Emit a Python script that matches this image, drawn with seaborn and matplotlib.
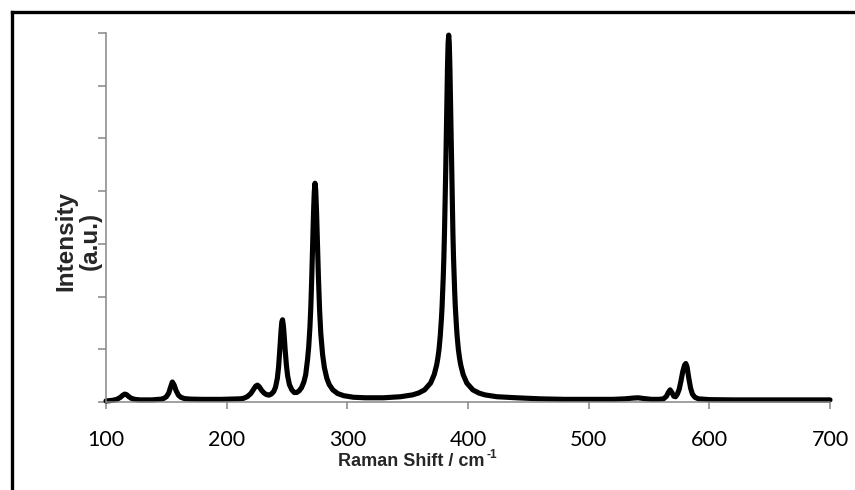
import numpy as np
import pandas as pd
import matplotlib
matplotlib.use("Agg")
import matplotlib.pyplot as plt
import seaborn as sns
from matplotlib.lines import Line2D

# Raman spectrum (intensity in axis-tick units, 0..7)
raman_shift = [100, 103, 106, 109, 112, 114, 115.5, 117, 119, 121, 124, 128, 138, 146,
               148, 150, 152, 153.5, 155, 156.5, 158, 160, 162, 165, 170, 180, 195, 205,
               211, 214, 217, 220, 222, 224, 225.5, 227, 229, 231, 233, 235, 237,
               239, 240.5, 242, 243, 244, 245, 245.7, 246.3, 247, 247.7, 248.5, 249.5,
               250.5, 252, 254, 256, 258, 260, 262, 264, 265.5, 267, 268, 269, 269.7,
               270.5, 271.3, 272, 272.6, 273.2, 273.8, 274.5, 275.3, 276, 277, 278,
               279.5, 281, 283, 285, 288, 292, 297, 305, 315, 330, 344, 354, 359, 364,
               369, 372, 374, 375, 376, 377, 377.5, 378, 378.5, 379, 379.5, 380, 380.5,
               381, 381.5, 382, 382.5, 383, 383.5, 384, 384.5, 385, 385.5, 386, 386.5,
               387, 387.5, 388, 388.5, 389, 389.5, 390, 390.5, 391, 392, 393, 394, 396,
               399, 404, 409, 414, 424, 440, 460, 480, 500, 520, 530, 537, 541, 546,
               552, 558, 562, 564.5, 566, 567.5, 569, 570.5, 572, 573.5, 575, 576.5,
               578, 579.5, 580.5, 581.5, 583, 584.5, 586, 588, 591, 600, 620, 650,
               680, 700]
intensity = [0.02, 0.025, 0.035, 0.05, 0.09, 0.13, 0.15, 0.14, 0.10, 0.07, 0.05, 0.04, 0.04, 0.055,
             0.07, 0.10, 0.17, 0.28, 0.38, 0.32, 0.22, 0.13, 0.09, 0.065, 0.055, 0.05, 0.05, 0.055,
             0.06, 0.07, 0.10, 0.16, 0.23, 0.30, 0.32, 0.29, 0.22, 0.17, 0.14, 0.13, 0.15,
             0.20, 0.28, 0.45, 0.66, 0.98, 1.33, 1.52, 1.56, 1.45, 1.25, 0.98, 0.70,
             0.50, 0.33, 0.23, 0.18, 0.18, 0.21, 0.27, 0.38, 0.52, 0.80, 1.05, 1.42, 1.78,
             2.35, 3.05, 3.60, 3.98, 4.15, 4.02, 3.60, 2.95, 2.40, 1.75, 1.30,
             0.90, 0.65, 0.45, 0.33, 0.23, 0.16, 0.12, 0.09, 0.08, 0.08, 0.10, 0.135, 0.17, 0.23,
             0.36, 0.52, 0.70, 0.83, 1.00, 1.25, 1.41, 1.59, 1.80, 2.07, 2.38, 2.74, 3.20,
             3.75, 4.35, 5.02, 5.72, 6.35, 6.80, 6.96, 6.80, 6.35, 5.72, 5.02, 4.35,
             3.75, 3.20, 2.74, 2.38, 2.07, 1.80, 1.59, 1.41, 1.25, 1.00, 0.83, 0.70, 0.52,
             0.36, 0.23, 0.17, 0.135, 0.10, 0.08, 0.06, 0.05, 0.05, 0.05, 0.06, 0.075, 0.08, 0.065,
             0.05, 0.05, 0.06, 0.11, 0.18, 0.23, 0.18, 0.11, 0.10, 0.15, 0.24, 0.40,
             0.58, 0.70, 0.73, 0.67, 0.45, 0.26, 0.15, 0.09, 0.06, 0.045, 0.04, 0.04,
             0.04, 0.04]

x_ticks = [100, 200, 300, 400, 500, 600, 700]
y_ticks = [0, 1, 2, 3, 4, 5, 6, 7]

df = pd.DataFrame({"shift": raman_shift, "intensity": intensity})

sns.set_style("white")
plt.rcParams["font.family"] = ["Lato", "DejaVu Sans"]

fig = plt.figure(figsize=(8.55, 4.9), dpi=100)
ax = fig.add_axes([106 / 855, 1 - 402 / 490, 724 / 855, 369 / 490])

sns.lineplot(data=df, x="shift", y="intensity", ax=ax, color="black", lw=3.7,
             sort=False, estimator=None, clip_on=False, solid_joinstyle="round",
             solid_capstyle="round")

ax.set_xlim(100, 700)
ax.set_ylim(0, 7)
ax.set_xticks(x_ticks)
ax.set_yticks(y_ticks)
ax.set_yticklabels([])
ax.set_xlabel("")
ax.set_ylabel("")

grey = "#868686"
for side in ["top", "right"]:
    ax.spines[side].set_visible(False)
for side in ["left", "bottom"]:
    ax.spines[side].set_color(grey)
    ax.spines[side].set_linewidth(1.1)
ax.tick_params(axis="x", direction="out", length=5, width=1.1, color=grey,
               labelsize=15.5, pad=15, labelcolor="black", bottom=True)
ax.tick_params(axis="y", direction="out", length=6, width=1.1, color=grey, left=True)

# axis titles (Excel style, bold Arial-like)
fig.text(338 / 855, 1 - 461 / 490, "Raman Shift / cm", ha="left", va="center",
         fontsize=13, fontweight="bold", family="Liberation Sans")
fig.text(486 / 855, 1 - 455 / 490, "-1", ha="left", va="center",
         fontsize=8.5, fontweight="bold", family="Liberation Sans")
fig.text(78 / 855, 1 - 241 / 490, "Intensity\n(a.u.)", rotation=90,
         ha="center", va="center", multialignment="center", fontsize=17.5,
         fontweight="bold", family="Liberation Sans", linespacing=1.05)

# chart border (left and top edges visible in the reference)
fig.add_artist(Line2D([11.7 / 855, 11.7 / 855], [0, 1 - 11.7 / 490],
                      transform=fig.transFigure, color="black", lw=2.4,
                      solid_capstyle="projecting"))
fig.add_artist(Line2D([11.7 / 855, 1], [1 - 11.7 / 490, 1 - 11.7 / 490],
                      transform=fig.transFigure, color="black", lw=2.4,
                      solid_capstyle="projecting"))

fig.savefig("out.png", dpi=100)
